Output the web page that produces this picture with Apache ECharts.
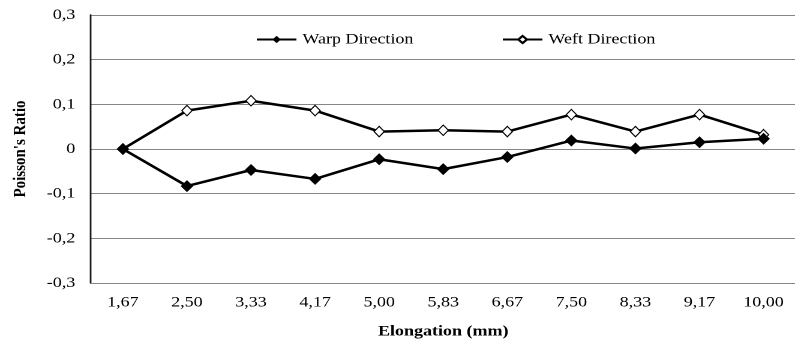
<!DOCTYPE html>
<html>
<head>
<meta charset="utf-8">
<script src="https://cdn.jsdelivr.net/npm/echarts@6/dist/echarts.min.js"></script>
<style>
  html, body { margin: 0; padding: 0; background: #fff; overflow: hidden; }
  /* The chart is laid out narrow and widened horizontally so the serif text gets its wide look */
  #chart { width: 663px; height: 345px; transform: scaleX(1.2); transform-origin: 0 0; }
</style>
</head>
<body>
<div id="chart"></div>
<script>
// Elongation steps (mm) shown on the category axis
const elongation = ['1,67', '2,50', '3,33', '4,17', '5,00', '5,83', '6,67', '7,50', '8,33', '9,17', '10,00'];
// Poisson's ratio per direction
const warpDirection = [0, -0.083, -0.047, -0.067, -0.023, -0.045, -0.018, 0.019, 0.001, 0.015, 0.023];
const weftDirection = [0, 0.086, 0.108, 0.086, 0.039, 0.042, 0.039, 0.077, 0.039, 0.077, 0.032];
// Value-axis ticks
const ratioTicks = [-0.3, -0.2, -0.1, 0, 0.1, 0.2, 0.3];

const FONT = "'Liberation Serif', 'Times New Roman', serif";
const GRID_GRAY = '#868686';

const chart = echarts.init(document.getElementById('chart'), null, { renderer: 'canvas', devicePixelRatio: 2 });

const fmt = v => (Math.abs(v) < 1e-9 ? '0' : v.toFixed(1).replace('.', ','));

chart.setOption({
  animation: false,
  backgroundColor: '#fff',
  textStyle: { fontFamily: FONT },
  grid: { left: 75.7, top: 15, width: 589, height: 268, containLabel: false },
  legend: [
    {
      data: ['Warp Direction'],
      left: 208, top: 27,
      itemWidth: 33, itemHeight: 9,
      textStyle: { fontFamily: FONT, fontSize: 15, color: '#000' }
    },
    {
      data: ['Weft Direction'],
      left: 413, top: 27,
      itemWidth: 33, itemHeight: 9,
      textStyle: { fontFamily: FONT, fontSize: 15, color: '#000' }
    }
  ],
  xAxis: {
    type: 'category',
    data: elongation,
    boundaryGap: true,
    name: 'Elongation (mm)',
    nameLocation: 'middle',
    nameGap: 41,
    nameTextStyle: { fontFamily: FONT, fontSize: 15, fontWeight: 'bold', color: '#000' },
    axisLine: { onZero: false, lineStyle: { color: GRID_GRAY, width: 1 } },
    axisTick: { show: false },
    axisLabel: { fontFamily: FONT, fontSize: 15, color: '#000', margin: 12, interval: 0 }
  },
  yAxis: {
    type: 'value',
    min: ratioTicks[0],
    max: ratioTicks[ratioTicks.length - 1],
    interval: 0.1,
    name: "Poisson's Ratio",
    nameLocation: 'middle',
    nameGap: 51,
    nameRotate: 90,
    nameTextStyle: { fontFamily: FONT, fontSize: 15, fontWeight: 'bold', color: '#000' },
    axisLine: { show: true, lineStyle: { color: '#1a1a1a', width: 1.4 } },
    axisTick: { show: false },
    axisLabel: { fontFamily: FONT, fontSize: 15, color: '#000', margin: 13, formatter: fmt },
    splitLine: { show: true, lineStyle: { color: GRID_GRAY, width: 1 } }
  },
  series: [
    {
      name: 'Warp Direction',
      type: 'line',
      data: warpDirection,
      symbol: 'diamond',
      symbolSize: [10.5, 12],
      lineStyle: { color: '#000', width: 2.5 },
      itemStyle: { color: '#000', borderColor: '#000', borderWidth: 0 },
      z: 3
    },
    {
      name: 'Weft Direction',
      type: 'line',
      data: weftDirection,
      symbol: 'diamond',
      symbolSize: [8.5, 10.5],
      showAllSymbol: true,
      lineStyle: { color: '#000', width: 2.5 },
      itemStyle: { color: '#fff', borderColor: '#000', borderWidth: 1 },
      z: 2
    }
  ]
});
</script>
</body>
</html>
